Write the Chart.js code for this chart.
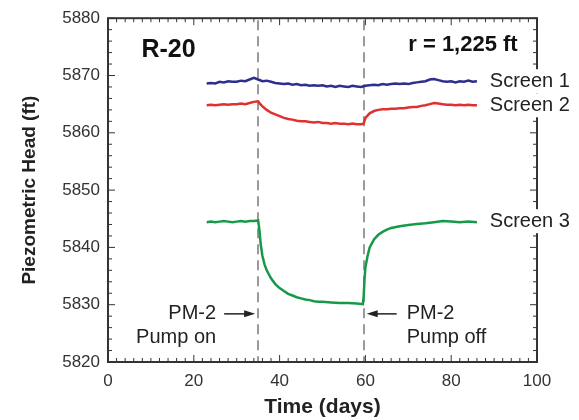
<!DOCTYPE html>
<html>
<head>
<meta charset="utf-8">
<script src="https://cdn.jsdelivr.net/npm/chart.js@4.4.1/dist/chart.umd.min.js"></script>
<style>
  html, body { margin: 0; padding: 0; background: #fff; }
  #wrap { width: 579px; height: 420px; position: relative; }
</style>
</head>
<body>
<div id="wrap"><canvas id="chart"></canvas></div>
<script>
// Time (days) and piezometric head (ft)
const screen1Days = [23,24,25,26,27,28,29,30,31,32,33,34,35,36,37,38,39,40,41,42,43,44,45,46,47,48,49,50,51,52,53,54,55,56,57,58,59,60,61,62,63,64,65,66,67,68,69,70,71,72,73,74,75,76,77,78,79,80,81,82,83,84,85,86];
const screen1Head = [5868.6,5868.7,5868.6,5868.9,5868.8,5869.0,5868.9,5868.9,5869.1,5869.0,5869.3,5869.6,5869.3,5869.0,5869.1,5868.9,5868.7,5868.6,5868.5,5868.6,5868.4,5868.5,5868.3,5868.4,5868.2,5868.3,5868.2,5868.3,5868.1,5868.2,5868.0,5868.2,5868.1,5868.0,5868.2,5868.1,5868.0,5868.2,5868.3,5868.4,5868.3,5868.5,5868.4,5868.5,5868.6,5868.5,5868.6,5868.5,5868.7,5868.8,5868.9,5869.0,5869.3,5869.4,5869.2,5869.0,5868.9,5869.0,5868.8,5869.0,5868.9,5869.1,5868.9,5869.0];

const screen2Days = [23,24,25,26,27,28,29,30,31,32,33,34,35,35.5,36,37,38,39,40,41,42,43,44,45,46,47,48,49,50,51,52,53,54,55,56,57,58,59,59.6,60,61,62,63,64,65,66,67,68,69,70,71,72,73,74,75,76,77,78,79,80,81,82,83,84,85,86];
const screen2Head = [5864.8,5864.9,5864.8,5864.9,5865.0,5864.9,5865.0,5865.0,5865.1,5865.0,5865.2,5865.4,5865.5,5865.0,5864.6,5864.0,5863.5,5863.2,5862.9,5862.6,5862.4,5862.3,5862.1,5862.0,5862.0,5861.9,5861.8,5861.9,5861.7,5861.7,5861.6,5861.7,5861.6,5861.6,5861.5,5861.6,5861.5,5861.5,5861.6,5862.6,5863.4,5863.8,5864.0,5864.1,5864.1,5864.2,5864.2,5864.3,5864.3,5864.4,5864.5,5864.5,5864.7,5864.8,5865.0,5865.2,5865.1,5865.0,5864.9,5864.9,5864.8,5864.9,5864.8,5864.9,5864.8,5864.8];

const screen3Days = [23,24,25,26,27,28,29,30,31,32,33,34,35,35.3,35.6,36,36.5,37,38,39,40,41,42,43,44,45,46,47,48,49,50,52,54,56,58,59.4,59.6,59.8,60,60.5,61,62,63,64,65,66,68,70,72,74,76,78,80,82,84,86];
const screen3Head = [5844.4,5844.5,5844.4,5844.5,5844.6,5844.5,5844.4,5844.5,5844.6,5844.5,5844.6,5844.6,5844.7,5843.0,5840.5,5838.5,5837.0,5836.0,5834.6,5833.6,5832.9,5832.4,5831.9,5831.6,5831.3,5831.1,5830.9,5830.8,5830.6,5830.5,5830.5,5830.4,5830.3,5830.3,5830.2,5830.1,5831.5,5834.5,5836.5,5838.5,5840.0,5841.4,5842.2,5842.7,5843.1,5843.4,5843.7,5843.9,5844.1,5844.2,5844.4,5844.6,5844.5,5844.4,5844.5,5844.4];

const seriesNames = ['Screen 1', 'Screen 2', 'Screen 3'];
const seriesColors = ['#2c2f8c', '#e0302f', '#17994a'];
const pumpOnDay = 35;
const pumpOffDay = 59.6;

const FONT = '"Liberation Sans", Arial, sans-serif';

function toPoints(xs, ys) {
    return xs.map((x, i) => ({ x: x, y: ys[i] }));
}

// Frame, inward ticks, dashed pump lines, annotations
const decorPlugin = {
    id: 'decor',
    beforeDatasetsDraw(chart) {
        const ctx = chart.ctx;
        const xs = chart.scales.x;
        const area = chart.chartArea;
        ctx.save();
        ctx.strokeStyle = '#9a9a9a';
        ctx.lineWidth = 2;
        ctx.setLineDash([10, 6]);
        [pumpOnDay, pumpOffDay].forEach(d => {
            const px = Math.round(xs.getPixelForValue(d));
            ctx.beginPath();
            ctx.moveTo(px, area.top + 2);
            ctx.lineTo(px, area.bottom);
            ctx.stroke();
        });
        ctx.restore();
    },
    afterDatasetsDraw(chart) {
        const ctx = chart.ctx;
        const xs = chart.scales.x;
        const ys = chart.scales.y;
        const a = chart.chartArea;
        ctx.save();

        // frame
        ctx.strokeStyle = '#333';
        ctx.lineWidth = 2;
        ctx.setLineDash([]);
        ctx.strokeRect(a.left, a.top, a.right - a.left, a.bottom - a.top);

        // inward ticks
        ctx.lineWidth = 1;
        for (let v = 0; v <= 100; v += 2) {
            const px = xs.getPixelForValue(v);
            const len = v % 20 === 0 ? 7 : 4;
            ctx.beginPath();
            ctx.moveTo(px, a.bottom); ctx.lineTo(px, a.bottom - len);
            ctx.moveTo(px, a.top); ctx.lineTo(px, a.top + len);
            ctx.stroke();
        }
        for (let v = 5820; v <= 5880; v += 2) {
            const py = ys.getPixelForValue(v);
            const len = v % 10 === 0 ? 7 : 4;
            ctx.beginPath();
            ctx.moveTo(a.left, py); ctx.lineTo(a.left + len, py);
            ctx.moveTo(a.right, py); ctx.lineTo(a.right - len, py);
            ctx.stroke();
        }

        // series labels on white, covering the right axis
        ctx.font = '20px ' + FONT;
        ctx.textBaseline = 'middle';
        ctx.textAlign = 'left';
        const lastVals = [screen1Head, screen2Head, screen3Head].map(arr => arr[arr.length - 1]);
        const labelX = xs.getPixelForValue(89);
        lastVals.forEach((v, i) => {
            const py = ys.getPixelForValue(v) + (i === 2 ? -1 : 0);
            const w = ctx.measureText(seriesNames[i]).width;
            ctx.fillStyle = '#fff';
            ctx.fillRect(labelX - 6, py - 12, w + 14, 24);
            ctx.fillStyle = '#222';
            ctx.fillText(seriesNames[i], labelX, py);
        });

        // titles inside plot
        ctx.fillStyle = '#111';
        ctx.font = 'bold 25px ' + FONT;
        ctx.fillText('R-20', xs.getPixelForValue(7.8), ys.getPixelForValue(5874.5));
        ctx.font = 'bold 22px ' + FONT;
        ctx.textAlign = 'right';
        ctx.fillText('r = 1,225 ft', xs.getPixelForValue(95.5), ys.getPixelForValue(5875.3));

        // pump annotations
        ctx.font = '20px ' + FONT;
        ctx.fillStyle = '#222';
        const onX = xs.getPixelForValue(pumpOnDay);
        const offX = xs.getPixelForValue(pumpOffDay);
        const arrowY = ys.getPixelForValue(5828.4);
        ctx.textAlign = 'right';
        ctx.fillText('PM-2', onX - 42, arrowY);
        ctx.fillText('Pump on', onX - 42, arrowY + 24);
        ctx.textAlign = 'left';
        ctx.fillText('PM-2', offX + 43, arrowY);
        ctx.fillText('Pump off', offX + 43, arrowY + 24);

        ctx.strokeStyle = '#222';
        ctx.lineWidth = 1.5;
        function arrow(x1, x2) {
            const dir = Math.sign(x2 - x1);
            ctx.beginPath();
            ctx.moveTo(x1, arrowY); ctx.lineTo(x2 - dir * 8, arrowY);
            ctx.stroke();
            ctx.beginPath();
            ctx.moveTo(x2, arrowY);
            ctx.lineTo(x2 - dir * 11, arrowY - 3.5);
            ctx.lineTo(x2 - dir * 11, arrowY + 3.5);
            ctx.closePath();
            ctx.fill();
        }
        arrow(onX - 34, onX - 3);
        arrow(offX + 33, offX + 3);

        ctx.restore();
    }
};

const datasets = [screen1Days, screen2Days, screen3Days].map((days, i) => ({
    label: seriesNames[i],
    data: toPoints(days, [screen1Head, screen2Head, screen3Head][i]),
    borderColor: seriesColors[i],
    backgroundColor: seriesColors[i],
    borderWidth: 2.5,
    pointRadius: 0,
    tension: 0,
    fill: false
}));

new Chart(document.getElementById('chart'), {
    type: 'line',
    data: { datasets: datasets },
    plugins: [decorPlugin],
    options: {
        responsive: true,
        maintainAspectRatio: false,
        animation: false,
        layout: { padding: { left: 0, right: 42, top: 16, bottom: 0 } },
        plugins: {
            legend: { display: false },
            tooltip: { enabled: false }
        },
        scales: {
            x: {
                type: 'linear',
                min: 0,
                max: 100,
                border: { display: false },
                grid: { display: false, drawTicks: false },
                ticks: {
                    stepSize: 20,
                    padding: 9,
                    color: '#333',
                    font: { family: FONT, size: 17 }
                },
                title: {
                    display: true,
                    text: 'Time (days)',
                    color: '#222',
                    padding: { top: 3, bottom: 0 },
                    font: { family: FONT, size: 21, weight: 'bold' }
                },
                afterFit(scale) { scale.height = 58; }
            },
            y: {
                type: 'linear',
                min: 5820,
                max: 5880,
                border: { display: false },
                grid: { display: false, drawTicks: false },
                ticks: {
                    stepSize: 10,
                    padding: 8,
                    color: '#333',
                    font: { family: FONT, size: 17 },
                    callback: value => String(value)
                },
                title: {
                    display: true,
                    text: 'Piezometric Head (ft)',
                    color: '#222',
                    padding: { top: 18, bottom: 0 },
                    font: { family: FONT, size: 19, weight: 'bold' }
                },
                afterFit(scale) { scale.width = 108; }
            }
        }
    }
});
</script>
</body>
</html>
